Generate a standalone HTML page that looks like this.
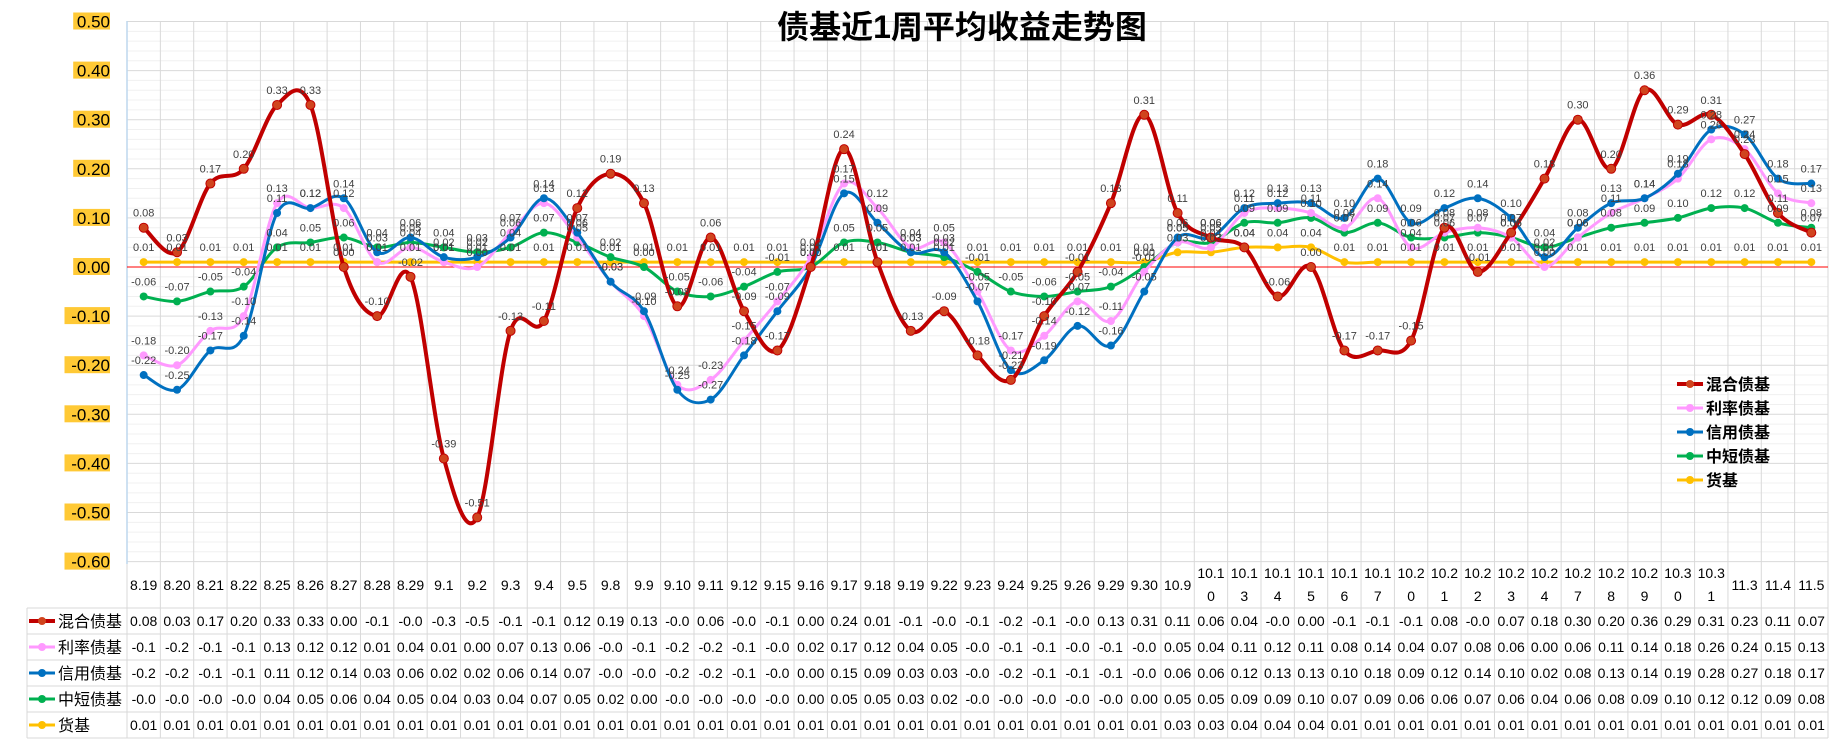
<!DOCTYPE html>
<html><head><meta charset="utf-8"><style>
body{margin:0;background:#fff;}
svg{display:block;font-family:"Liberation Sans","Noto Sans CJK SC",sans-serif;}
</style></head><body>
<svg id="chart" width="1839" height="741" viewBox="0 0 1839 741" xmlns="http://www.w3.org/2000/svg">
<rect x="0" y="0" width="1839" height="741" fill="#fff"/>
<g id="grid"></g>
<g id="yaxis"></g>
<g id="cats"></g>
<g id="table"></g>
<line x1="127" y1="267" x2="1828" y2="267" stroke="#FF0000" stroke-width="1"/>
<g id="series"></g>
<g id="labels"></g>
<text x="962" y="38" text-anchor="middle" font-size="32" font-weight="bold" fill="#000" font-family="Liberation Sans, Noto Sans CJK SC, sans-serif">债基近1周平均收益走势图</text>
<g id="legend"></g>
</svg>
<script>
const categories=["8.19","8.20","8.21","8.22","8.25","8.26","8.27","8.28","8.29","9.1","9.2","9.3","9.4","9.5","9.8","9.9","9.10","9.11","9.12","9.15","9.16","9.17","9.18","9.19","9.22","9.23","9.24","9.25","9.26","9.29","9.30","10.9","10.10","10.13","10.14","10.15","10.16","10.17","10.20","10.21","10.22","10.23","10.24","10.27","10.28","10.29","10.30","10.31","11.3","11.4","11.5"];
const seriesNames=["混合债基","利率债基","信用债基","中短债基","货基"];
const mixed=[0.08,0.03,0.17,0.20,0.33,0.33,0.00,-0.10,-0.02,-0.39,-0.51,-0.13,-0.11,0.12,0.19,0.13,-0.08,0.06,-0.09,-0.17,0.00,0.24,0.01,-0.13,-0.09,-0.18,-0.23,-0.10,-0.01,0.13,0.31,0.11,0.06,0.04,-0.06,0.00,-0.17,-0.17,-0.15,0.08,-0.01,0.07,0.18,0.30,0.20,0.36,0.29,0.31,0.23,0.11,0.07];
const rate=[-0.18,-0.20,-0.13,-0.10,0.13,0.12,0.12,0.01,0.04,0.01,0.00,0.07,0.13,0.06,-0.03,-0.10,-0.24,-0.23,-0.15,-0.07,0.02,0.17,0.12,0.04,0.05,-0.05,-0.17,-0.14,-0.07,-0.11,-0.01,0.05,0.04,0.11,0.12,0.11,0.08,0.14,0.04,0.07,0.08,0.06,0.00,0.06,0.11,0.14,0.18,0.26,0.24,0.15,0.13];
const credit=[-0.22,-0.25,-0.17,-0.14,0.11,0.12,0.14,0.03,0.06,0.02,0.02,0.06,0.14,0.07,-0.03,-0.09,-0.25,-0.27,-0.18,-0.09,0.00,0.15,0.09,0.03,0.03,-0.07,-0.21,-0.19,-0.12,-0.16,-0.05,0.06,0.06,0.12,0.13,0.13,0.10,0.18,0.09,0.12,0.14,0.10,0.02,0.08,0.13,0.14,0.19,0.28,0.27,0.18,0.17];
const shortMid=[-0.06,-0.07,-0.05,-0.04,0.04,0.05,0.06,0.04,0.05,0.04,0.03,0.04,0.07,0.05,0.02,0.00,-0.05,-0.06,-0.04,-0.01,0.00,0.05,0.05,0.03,0.02,-0.01,-0.05,-0.06,-0.05,-0.04,0.00,0.05,0.05,0.09,0.09,0.10,0.07,0.09,0.06,0.06,0.07,0.06,0.04,0.06,0.08,0.09,0.10,0.12,0.12,0.09,0.08];
const money=[0.01,0.01,0.01,0.01,0.01,0.01,0.01,0.01,0.01,0.01,0.01,0.01,0.01,0.01,0.01,0.01,0.01,0.01,0.01,0.01,0.01,0.01,0.01,0.01,0.01,0.01,0.01,0.01,0.01,0.01,0.01,0.03,0.03,0.04,0.04,0.04,0.01,0.01,0.01,0.01,0.01,0.01,0.01,0.01,0.01,0.01,0.01,0.01,0.01,0.01,0.01];
const yTicks=["0.50","0.40","0.30","0.20","0.10","0.00","-0.10","-0.20","-0.30","-0.40","-0.50","-0.60"];

const NS="http://www.w3.org/2000/svg";
const L=127,R=1828,Y0=267,PX=491,TOP=21,BOT=564;
const N=categories.length, CW=(R-L)/N;
const xs=i=>L+CW*(i+0.5);
const ys=v=>Y0-v*PX;
function mk(tag,attrs,parent,txt){const e=document.createElementNS(NS,tag);for(const k in attrs)e.setAttribute(k,attrs[k]);if(txt!==undefined)e.textContent=txt;parent.appendChild(e);return e;}
const grid=document.getElementById('grid');
// minor horizontal
for(let k=-30;k<=25;k++){const y=ys(k*0.02);const major=(k%5===0);const ln=mk('line',{x1:L,x2:R,y1:y,y2:y,stroke:major?'#D9D9D9':'#F0F0F0','stroke-width':1},grid);

}
// vertical
for(let i=0;i<=N;i++){const x=L+CW*i;const ln=mk('line',{x1:x,x2:x,y1:TOP,y2:738,stroke:'#D9D9D9','stroke-width':1},grid);

}
mk('line',{x1:L,x2:L,y1:TOP,y2:BOT,stroke:'#BDD7EE','stroke-width':1.5},grid);
// y-axis labels
const ya=document.getElementById('yaxis');
yTicks.forEach(t=>{const v=parseFloat(t);const y=ys(v);const w=t.length*8.7+2;
const r=mk('rect',{x:110-w,y:y-9,width:w,height:17,fill:'#FFC935'},ya);


const tx=mk('text',{x:110,y:y+6,'text-anchor':'end','font-size':17,fill:'#000'},ya,t);

});
// categories
const cg=document.getElementById('cats');
mk('line',{x1:27,x2:R,y1:608,y2:608,stroke:'#D9D9D9'},cg);
categories.forEach((c,i)=>{let lines=(c.length>4)?[c.slice(0,4),c.slice(4)]:[c];
lines.forEach((s,j)=>{const y=lines.length===1?590:578+j*23;
const t=mk('text',{x:xs(i),y:y,'text-anchor':'middle','font-size':14,fill:'#000'},cg,s);

});});
const data=[mixed,rate,credit,shortMid,money];
const colors=["#C00000","#FF99FF","#0070C0","#00B050","#FFC000"];
const widths=[4,3,3,3,3];
// table
const tb=document.getElementById('table');
for(let r=0;r<=5;r++){mk('line',{x1:27,x2:R,y1:608+r*26,y2:608+r*26,stroke:'#D9D9D9'},tb);}
mk('line',{x1:27,x2:27,y1:608,y2:738,stroke:'#D9D9D9'},tb);
function legendKey(g,x,y,i){mk('line',{x1:x,x2:x+26,y1:y,y2:y,stroke:colors[i],'stroke-width':widths[i]},g);mk('circle',{cx:x+13,cy:y,r:4,fill:i===0?'#D0441E':colors[i]},g);}
seriesNames.forEach((nm,r)=>{const yc=621+r*26;
const g=mk('g',{},tb);


legendKey(g,29,yc,r);
mk('text',{x:58,y:yc+6,'font-size':16,fill:'#000'},g,nm);
data[r].forEach((v,i)=>{const s=v.toFixed(2).slice(0,4);
const t=mk('text',{x:xs(i),y:yc+5,'text-anchor':'middle','font-size':14,fill:'#000'},g,s);

});});
// series
function smooth(pts){let d=`M${pts[0][0]},${pts[0][1]}`;for(let i=0;i<pts.length-1;i++){const p0=pts[i-1]||pts[i],p1=pts[i],p2=pts[i+1],p3=pts[i+2]||p2;const t=1/6;
d+=` C${p1[0]+(p2[0]-p0[0])*t},${p1[1]+(p2[1]-p0[1])*t} ${p2[0]-(p3[0]-p1[0])*t},${p2[1]-(p3[1]-p1[1])*t} ${p2[0]},${p2[1]}`;}return d;}
const sg=document.getElementById('series');const lg=document.getElementById('labels');
[4,3,1,2,0].forEach(s=>{const pts=data[s].map((v,i)=>[xs(i),ys(v)]);
const g=mk('g',{},sg);


const p=mk('path',{d:smooth(pts),fill:'none',stroke:colors[s],'stroke-width':widths[s],'stroke-linejoin':'round'},g);


pts.forEach(pt=>{const c=mk('circle',{cx:pt[0],cy:pt[1],r:s===0?4.5:4,fill:s===0?'#D0441E':colors[s],stroke:s===0?'#C00000':'none','stroke-width':1},g);

});
data[s].forEach((v,i)=>{const t=mk('text',{x:xs(i),y:ys(v)-11,'text-anchor':'middle','font-size':11,fill:'#404040'},lg,v.toFixed(2));

});});
// legend
const lgd=document.getElementById('legend');
seriesNames.forEach((nm,i)=>{const y=384+i*24;const g=mk('g',{},lgd);


legendKey(g,1677,y,i);
mk('text',{x:1706,y:y+6,'font-size':16,'font-weight':'bold',fill:'#000'},g,nm);});
</script>
</body></html>
